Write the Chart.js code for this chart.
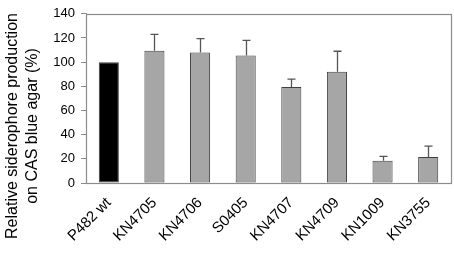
<!DOCTYPE html>
<html>
<head>
<meta charset="utf-8">
<script src="https://cdn.jsdelivr.net/npm/chart.js@4"></script>
<style>
  html, body { margin: 0; padding: 0; background: #fff; }
  #wrap { width: 454px; height: 265px; }
</style>
</head>
<body>
<div id="wrap"><canvas id="c" width="454" height="265"></canvas></div>
<script>
// strains on the x axis
var strains = ["P482 wt", "KN4705", "KN4706", "S0405", "KN4707", "KN4709", "KN1009", "KN3755"];
// relative siderophore production (%)
var production = [100, 109.5, 108, 105.5, 79.5, 92, 18.5, 21.5];
// upper error (sd), 0 = none
var errUp = [0, 13.5, 11.5, 12.5, 6.5, 17, 3.5, 9];
var barColors = ["#000000", "#a6a6a6", "#a6a6a6", "#a6a6a6", "#a6a6a6", "#a6a6a6", "#a6a6a6", "#a6a6a6"];
var yTicks = [0, 20, 40, 60, 80, 100, 120, 140];
var yTitle = ["Relative siderophore production", "on CAS blue agar (%)"];

// draws only the upper half of the error bars, like the figure
var errorBars = {
  id: 'errorBars',
  afterDatasetsDraw(chart) {
    var ctx = chart.ctx;
    var meta = chart.getDatasetMeta(0);
    var y = chart.scales.y;
    ctx.save();
    ctx.strokeStyle = "#555555";
    ctx.lineWidth = 1.3;
    meta.data.forEach(function (bar, i) {
      if (!errUp[i]) return;
      var x = Math.round(bar.x) + 0.5;
      var top = y.getPixelForValue(production[i] + errUp[i]);
      ctx.beginPath();
      ctx.moveTo(x, bar.y);
      ctx.lineTo(x, top);
      ctx.moveTo(x - 4, top);
      ctx.lineTo(x + 4, top);
      ctx.stroke();
    });
    ctx.restore();
  }
};

// box around the plot area + y title centred on the whole canvas height
var frame = {
  id: 'frame',
  beforeDatasetsDraw(chart) {
    var a = chart.chartArea;
    var ctx = chart.ctx;
    ctx.save();
    ctx.strokeStyle = "#8c8c8c";
    ctx.lineWidth = 1.2;
    ctx.strokeRect(Math.round(a.left) + 0.5, Math.round(a.top) + 0.5, Math.round(a.right - a.left), Math.round(a.bottom - a.top));
    ctx.restore();
  },
  afterDraw(chart) {
    var ctx = chart.ctx;
    ctx.save();
    ctx.translate(13, 126);
    ctx.rotate(-Math.PI / 2);
    ctx.fillStyle = "#000";
    ctx.font = "16px 'Liberation Sans', Arial";
    ctx.textAlign = "center";
    ctx.textBaseline = "middle";
    yTitle.forEach(function (t, i) { ctx.fillText(t, 0, i * 20); });
    ctx.restore();
  }
};

new Chart(document.getElementById('c'), {
  type: 'bar',
  data: {
    labels: strains,
    datasets: [{
      data: production,
      backgroundColor: barColors,
      borderColor: "#404040",
      borderWidth: 1,
      borderSkipped: false,
      barPercentage: 0.44,
      categoryPercentage: 1
    }]
  },
  options: {
    responsive: false,
    animation: false,
    layout: { padding: { top: 9, right: 3, left: 0, bottom: 0 } },
    plugins: { legend: { display: false }, tooltip: { enabled: false } },
    scales: {
      x: {
        grid: { display: false },
        border: { color: "#8c8c8c" },
        ticks: {
          color: "#000",
          font: { family: "Liberation Sans, Arial", size: 15 },
          minRotation: 45, maxRotation: 45, padding: 3
        },
        afterFit(s) { s.height = 82; }
      },
      y: {
        min: 0, max: 140,
        afterBuildTicks(s) { s.ticks = yTicks.map(function (v) { return { value: v }; }); },
        grid: { drawOnChartArea: false, tickLength: 5, color: "#8c8c8c" },
        border: { color: "#8c8c8c" },
        ticks: {
          color: "#000",
          font: { family: "Liberation Sans, Arial", size: 13 },
          padding: 6
        },
        afterFit(s) { s.width = 86; }
      }
    }
  },
  plugins: [frame, errorBars]
});
</script>
</body>
</html>
